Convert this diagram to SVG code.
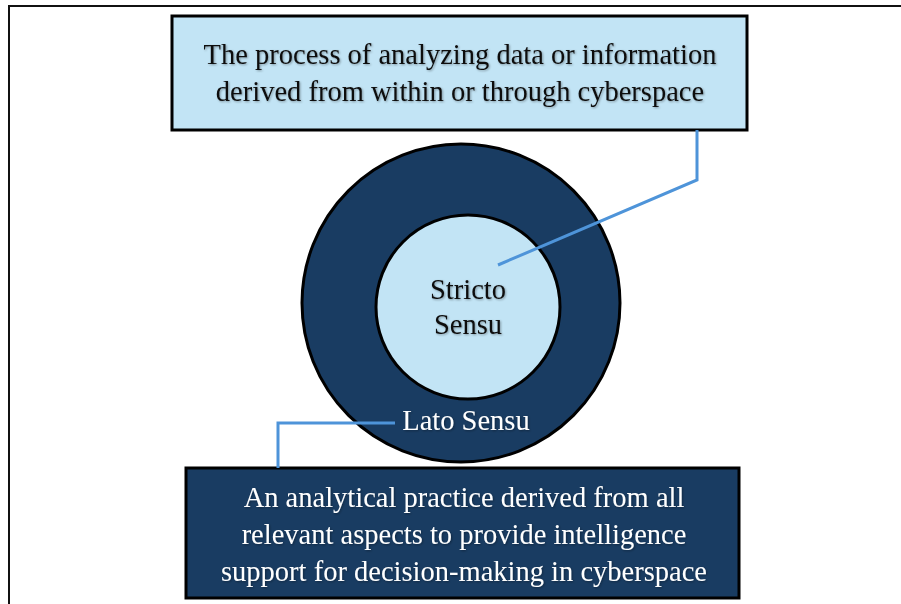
<svg xmlns="http://www.w3.org/2000/svg" width="901" height="604" viewBox="0 0 901 604">
  <defs>
    <filter id="txtShadow" x="-5%" y="-20%" width="110%" height="140%">
      <feDropShadow dx="1" dy="1" stdDeviation="0.8" flood-color="#000" flood-opacity="0.35"/>
    </filter>
  </defs>
  <style>
    .frame { fill: none; stroke: #111; stroke-width: 2; }
    .box { stroke: #000; stroke-width: 3; }
    .light { fill: #C2E4F5; }
    .dark { fill: #193C62; }
    .ring { stroke: #000; stroke-width: 3; }
    .link { fill: none; stroke: #4E94D9; stroke-width: 3; }
    .t { font-family: "Liberation Serif", "Times New Roman", serif; font-size: 28.5px; text-anchor: middle; filter: url(#txtShadow); }
    .tDark { fill: #111; }
    .tLight { fill: #fff; }
  </style>

  <!-- page frame -->
  <rect class="frame" x="9" y="6" width="900" height="610"/>

  <g id="narrow-definition">
    <rect class="box light" x="172" y="16" width="575" height="114"/>
    <text class="t tDark" x="460" y="64">The process of analyzing data or information</text>
    <text class="t tDark" x="460" y="101">derived from within or through cyberspace</text>
  </g>

  <g id="lato-sensu">
    <circle class="ring dark" cx="461" cy="303" r="159"/>
    <text class="t tLight" x="466" y="430">Lato Sensu</text>
  </g>

  <g id="stricto-sensu">
    <circle class="ring light" cx="468" cy="307" r="92"/>
    <text class="t tDark" x="468" y="299">Stricto</text>
    <text class="t tDark" x="468" y="334">Sensu</text>
  </g>

  <g id="broad-definition">
    <rect class="box dark" x="186" y="468" width="553" height="130"/>
    <text class="t tLight" x="464" y="507">An analytical practice derived from all</text>
    <text class="t tLight" x="464" y="544">relevant aspects to provide intelligence</text>
    <text class="t tLight" x="464" y="581">support for decision-making in cyberspace</text>
  </g>

  <!-- connectors drawn above the shapes -->
  <g id="connectors">
    <polyline class="link" points="697,130 697,180 498,265"/>
    <polyline class="link" points="395,423 278,423 278,468"/>
  </g>
</svg>
